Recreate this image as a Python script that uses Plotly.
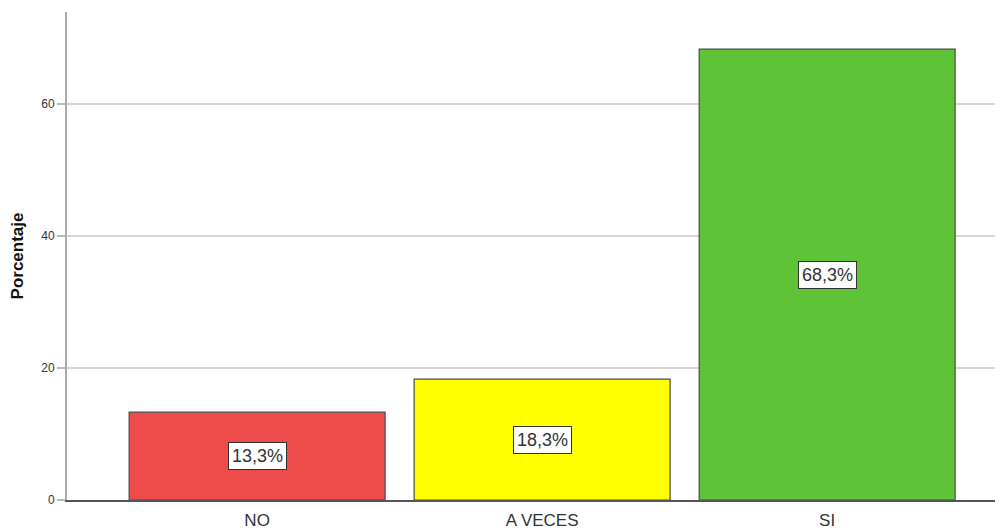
import plotly.graph_objects as go

categories = ["NO", "A VECES", "SI"]
values = [13.3, 18.3, 68.3]
labels = ["13,3%", "18,3%", "68,3%"]
colors = ["#EE4B4B", "#FFFF00", "#5EC337"]
yticks = [0, 20, 40, 60]

fig = go.Figure()
fig.add_trace(go.Bar(
    x=categories, y=values,
    marker=dict(color=colors, line=dict(color="#4a4a4a", width=1.2)),
    hoverinfo="skip",
))
for c, v, t in zip(categories, values, labels):
    fig.add_annotation(
        x=c, y=v / 2, text=t, showarrow=False,
        font=dict(family="Liberation Sans, Arial", size=18, color="#333333"),
        bgcolor="white", bordercolor="#333333", borderwidth=1, borderpad=3,
    )

# page body adds an 8px offset; the figure is sized to fill the window from there
fig.update_layout(
    width=995, height=521,
    margin=dict(l=59, r=0, t=4, b=29),
    plot_bgcolor="white", paper_bgcolor="white",
    bargap=0.102, showlegend=False,
    font=dict(family="Liberation Sans, Arial"),
)
fig.update_xaxes(
    type="category", range=[-0.667, 2.617],
    showgrid=False, showline=True, linecolor="#555555", linewidth=1.5,
    ticks="", ticklabelstandoff=4, tickfont=dict(size=17, color="#333333"),
)
fig.update_yaxes(
    range=[0, 73.94], tickvals=yticks,
    showgrid=True, gridcolor="#d6d6d6", gridwidth=1.5,
    zeroline=False,
    showline=True, linecolor="#aaaaaa", linewidth=2,
    ticks="outside", ticklen=8, tickcolor="#bbbbbb", tickwidth=1.5,
    tickfont=dict(size=12, color="#333333"),
    title=dict(text="<b>Porcentaje</b>", font=dict(size=17, color="#111111"), standoff=14),
)
fig.write_html("out.html")
